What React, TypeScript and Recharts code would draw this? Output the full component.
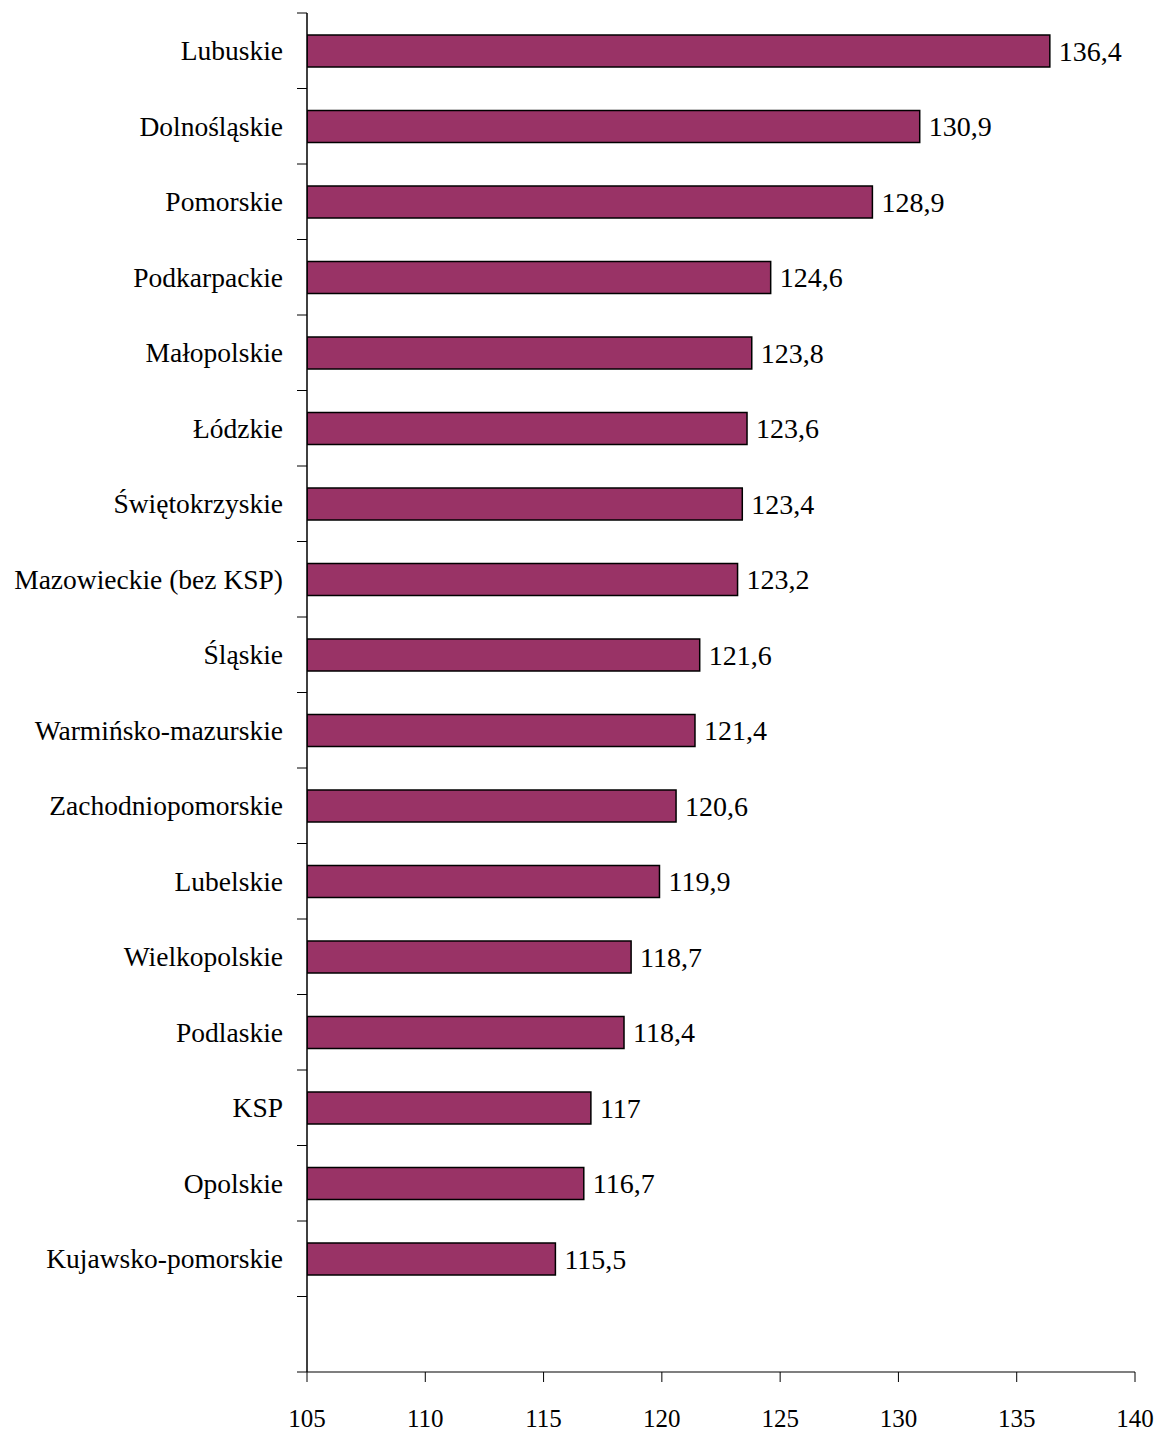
import { BarChart, Bar, XAxis, YAxis, LabelList } from 'recharts';

const REGIONS = [
  'Lubuskie', 'Dolnośląskie', 'Pomorskie', 'Podkarpackie', 'Małopolskie',
  'Łódzkie', 'Świętokrzyskie', 'Mazowieckie (bez KSP)', 'Śląskie',
  'Warmińsko-mazurskie', 'Zachodniopomorskie', 'Lubelskie', 'Wielkopolskie',
  'Podlaskie', 'KSP ', 'Opolskie', 'Kujawsko-pomorskie',
  '', // empty slot under the last bar
];

const VALUES = [
  136.4, 130.9, 128.9, 124.6, 123.8, 123.6, 123.4, 123.2, 121.6,
  121.4, 120.6, 119.9, 118.7, 118.4, 117, 116.7, 115.5,
  null,
];

const X_TICKS = [105, 110, 115, 120, 125, 130, 135, 140];

const W = 1162;
const H = 1431;
const PLOT_LEFT = 307;
const PLOT_TOP = 13;
const PLOT_BOTTOM = 1372;
const PLOT_RIGHT = 1135;
const FONT = '"Liberation Serif", "Times New Roman", serif';
const BAR_COLOR = '#993366';

const data = REGIONS.map((name, i) => ({ name, value: VALUES[i] }));
const band = (PLOT_BOTTOM - PLOT_TOP) / REGIONS.length;

function RegionTick(props: any) {
  const { y, payload, index } = props;
  const top = y - band / 2;
  const bottom = y + band / 2;
  return (
    <g>
      <line x1={PLOT_LEFT - 10} x2={PLOT_LEFT} y1={top} y2={top} stroke="#000" strokeWidth={1} />
      {index === REGIONS.length - 1 && (
        <line x1={PLOT_LEFT - 10} x2={PLOT_LEFT} y1={bottom} y2={bottom} stroke="#000" strokeWidth={1} />
      )}
      <text
        x={PLOT_LEFT - 24}
        y={y}
        textAnchor="end"
        dominantBaseline="central"
        fontFamily={FONT}
        fontSize={27.5}
        fill="#000"
      >
        {payload.value}
      </text>
    </g>
  );
}

const fmt = (v: any) => (v == null ? '' : String(v).replace('.', ','));

export default function App() {
  return (
    <div style={{ position: 'absolute', left: 0, top: 0, background: '#fff' }}>
      <BarChart
        width={W}
        height={H}
        data={data}
        layout="vertical"
        margin={{ top: PLOT_TOP, right: W - PLOT_RIGHT, left: 0, bottom: 0 }}
        barCategoryGap={0}
      >
        <XAxis
          type="number"
          domain={[105, 140]}
          ticks={X_TICKS}
          allowDataOverflow
          height={H - PLOT_BOTTOM}
          axisLine={{ stroke: '#555', strokeWidth: 1.5 }}
          tickLine={{ stroke: '#000', strokeWidth: 1 }}
          tickSize={10}
          tickMargin={27}
          tick={{ fontFamily: FONT, fontSize: 25, fill: '#000' }}
        />
        <YAxis
          type="category"
          dataKey="name"
          width={PLOT_LEFT}
          interval={0}
          tickLine={false}
          axisLine={{ stroke: '#000', strokeWidth: 1.5 }}
          tick={<RegionTick />}
        />
        <Bar
          dataKey="value"
          fill={BAR_COLOR}
          stroke="#000"
          strokeWidth={1.5}
          barSize={32}
          isAnimationActive={false}
        >
          <LabelList
            dataKey="value"
            position="right"
            offset={9}
            formatter={fmt}
            style={{ fontFamily: FONT, fontSize: 28, fill: '#000' }}
          />
        </Bar>
      </BarChart>
    </div>
  );
}
